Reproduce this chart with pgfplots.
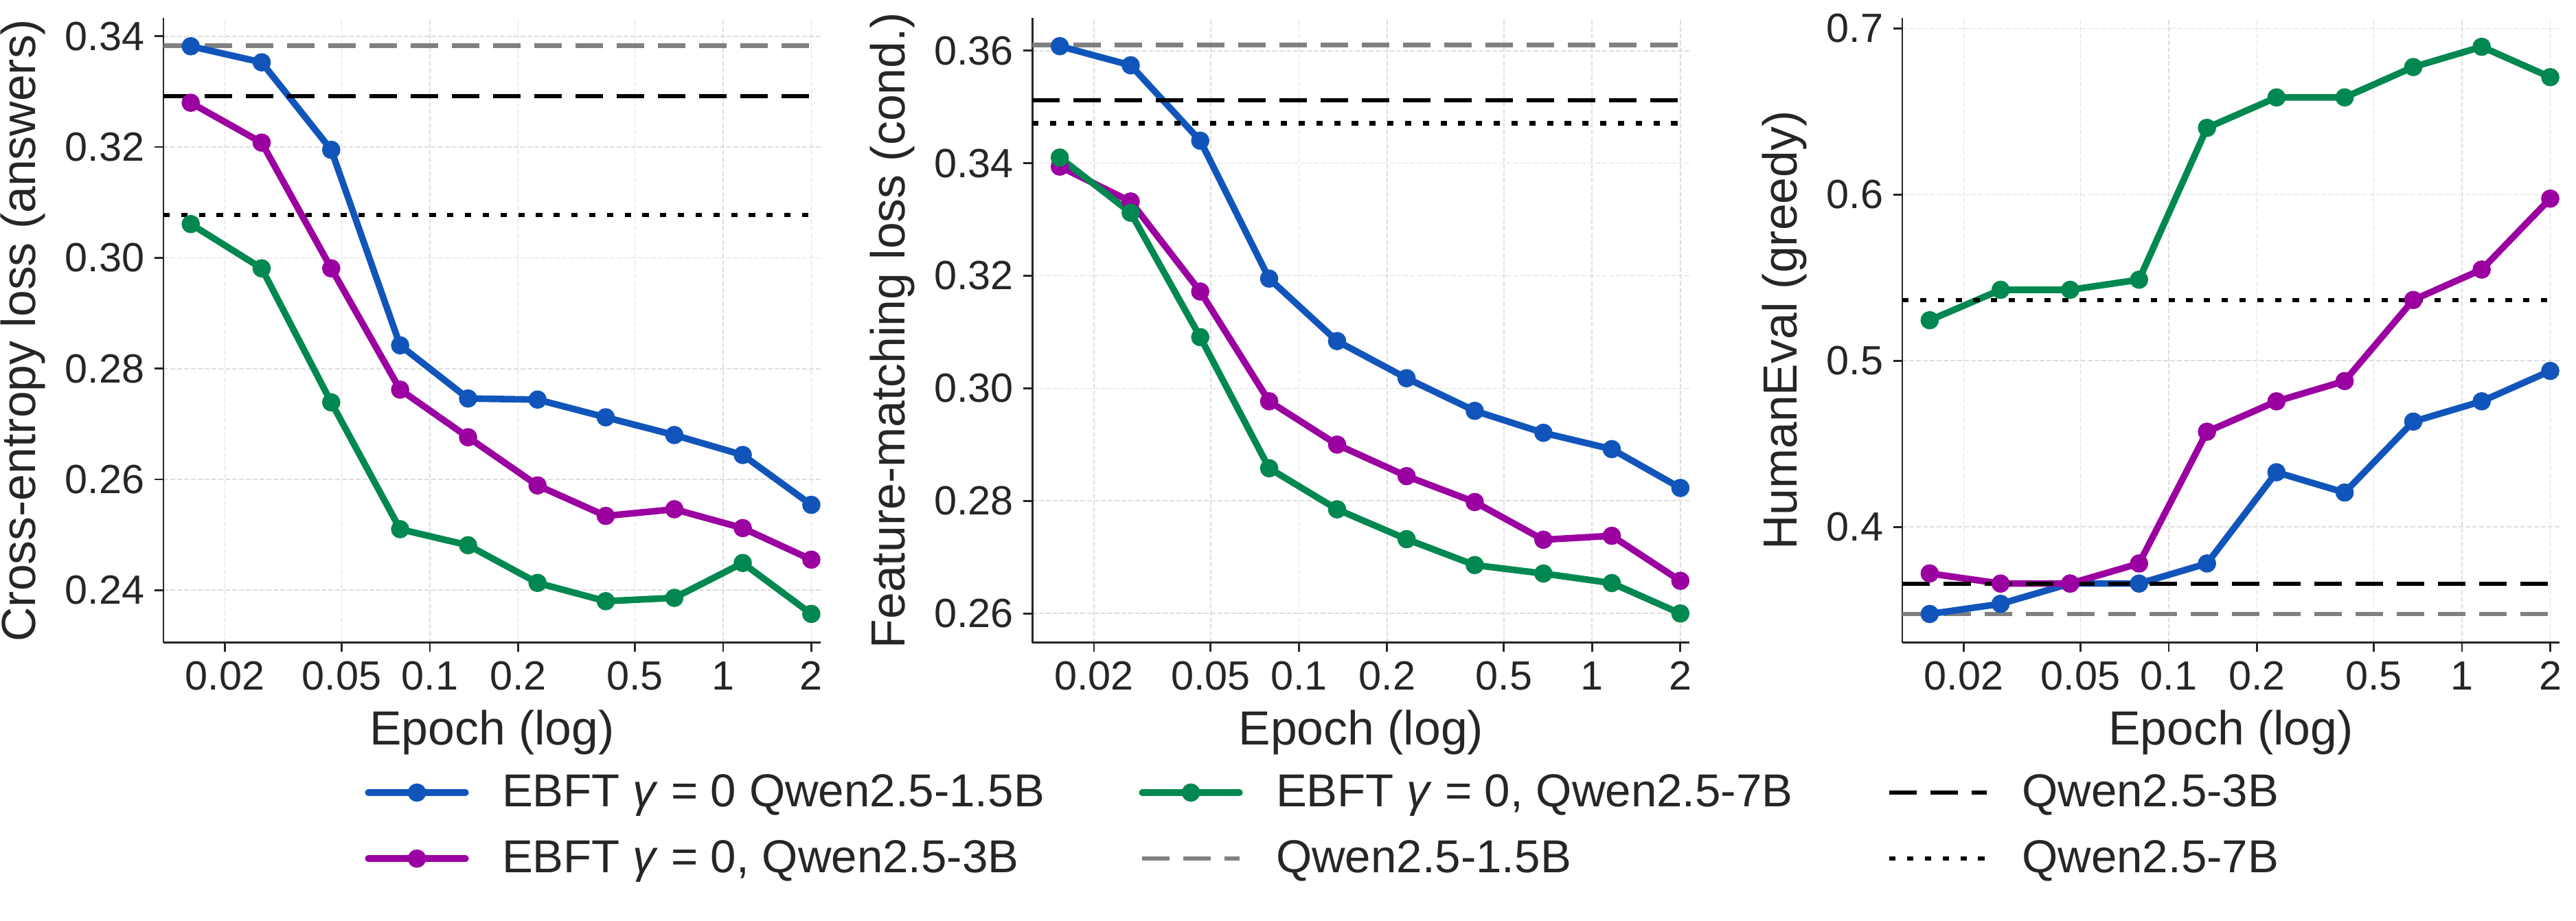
\documentclass[border=0pt]{standalone}
\usepackage{fontspec}
\setmainfont{Liberation Sans}
\usepackage{pgfplots}
\pgfplotsset{compat=1.18}
\usepackage{pgfplotstable}

\definecolor{cblue}{RGB}{17,85,187}
\definecolor{cpurple}{RGB}{155,0,160}
\definecolor{cgreen}{RGB}{0,136,80}
\definecolor{cgray}{RGB}{128,128,128}
\definecolor{ink}{HTML}{262626}
\definecolor{gridc}{HTML}{DEDEDE}

% columns: epoch, EBFT 1.5B, EBFT 3B, EBFT 7B
\pgfplotstableread{
epoch  b      p      g
0.0153 0.3382 0.3280 0.3061
0.0267 0.3353 0.3208 0.2981
0.0461 0.3195 0.2981 0.2739
0.0792 0.2842 0.2762 0.2510
0.135  0.2746 0.2676 0.2481
0.233  0.2744 0.2589 0.2413
0.398  0.2712 0.2534 0.2380
0.682  0.2680 0.2546 0.2386
1.167  0.2644 0.2512 0.2449
2.0    0.2554 0.2455 0.2357
}\tabce

\pgfplotstableread{
epoch  b      p      g
0.0153 0.3608 0.3394 0.3410
0.0267 0.3574 0.3332 0.3312
0.0461 0.3440 0.3172 0.3091
0.0792 0.3195 0.2977 0.2858
0.135  0.3084 0.2900 0.2785
0.233  0.3018 0.2844 0.2732
0.398  0.2960 0.2798 0.2686
0.682  0.2921 0.2731 0.2671
1.167  0.2892 0.2738 0.2654
2.0    0.2823 0.2658 0.2600
}\tabfm

\pgfplotstableread{
epoch  b      p      g
0.0153 0.3476 0.3720 0.5244
0.0267 0.3537 0.3659 0.5427
0.0461 0.3659 0.3659 0.5427
0.0792 0.3659 0.3780 0.5488
0.135  0.3780 0.4573 0.6402
0.233  0.4329 0.4756 0.6585
0.398  0.4207 0.4878 0.6585
0.682  0.4634 0.5366 0.6768
1.167  0.4756 0.5549 0.6890
2.0    0.4939 0.5976 0.6707
}\tabhe

\pgfkeys{/pgf/number format/assume math mode=true}

\tikzset{
  ser/.style={line width=2.3bp, line cap=round, line join=round,
    mark=*, mark size=2.95bp, mark options={solid, line width=0.5bp}},
  refdash/.style={line width=1.5bp, dash pattern=on 9.6bp off 4.8bp},
  refdot/.style={line width=1.5bp, dash pattern=on 2.2bp off 4bp},
}

\pgfplotsset{
  every axis/.append style={
    scale only axis, width=229.7bp, height=218.3bp,
    xmin=0.01234, xmax=2.152,
    xtick={0.02,0.05,0.1,0.2,0.5,1,2},
    xticklabels={0.02,0.05,0.1,0.2,0.5,1,2},
    axis x line*=bottom, axis y line*=left,
    axis line style={ink, line width=0.65bp},
    tick align=outside, major tick length=3.1bp,
    tick style={ink, line width=0.65bp},
    xmajorgrids, ymajorgrids,
    grid style={gridc, line width=0.4bp, dash pattern=on 1.6bp off 0.8bp},
    tick label style={font=\fontsize{14.3}{17}\selectfont, text=ink},
    label style={font=\fontsize{16.8}{20}\selectfont, text=ink},
    xlabel={Epoch (log)},
  },
}

\begin{document}
\begin{tikzpicture}
\useasboundingbox (0,0) rectangle (900.24bp,321.6bp);

% Cross-entropy
\begin{semilogxaxis}[at={(57.1bp,97.0bp)}, anchor=south west,
  ymin=0.2305, ymax=0.3433,
  ytick={0.24,0.26,0.28,0.30,0.32,0.34},
  yticklabel style={/pgf/number format/fixed, /pgf/number format/fixed zerofill,
    /pgf/number format/precision=2},
  ylabel={Cross-entropy loss (answers)}]
\addplot[refdash, cgray] coordinates {(0.01234,0.3383) (2,0.3383)};
\addplot[ser, cblue] table[x=epoch, y=b] {\tabce};
\addplot[ser, cpurple] table[x=epoch, y=p] {\tabce};
\addplot[ser, cgreen] table[x=epoch, y=g] {\tabce};
\addplot[refdash, black] coordinates {(0.01234,0.3292) (2,0.3292)};
\addplot[refdot, black] coordinates {(0.01234,0.3077) (2,0.3077)};
\end{semilogxaxis}

% Feature matching
\begin{semilogxaxis}[at={(360.8bp,97.0bp)}, anchor=south west,
  ymin=0.2548, ymax=0.3658,
  ytick={0.26,0.28,0.30,0.32,0.34,0.36},
  yticklabel style={/pgf/number format/fixed, /pgf/number format/fixed zerofill,
    /pgf/number format/precision=2},
  ylabel={Feature-matching loss (cond.)},
  legend columns=3,
  legend cell align=left,
  legend image code/.code={\path (43.6bp,0bp); \draw[mark repeat=2, mark phase=2, #1]
      plot coordinates {(0bp,0bp) (17bp,0bp) (34bp,0bp)};},
  legend style={at={(0.4447,-0.2927)}, anchor=center, draw=none, fill=none,
    font=\fontsize{16.2}{19.5}\selectfont, text=ink, row sep=6.3bp,
    /tikz/every even column/.append style={column sep=31bp}}]
\addplot[refdash, cgray, forget plot] coordinates {(0.01234,0.3610) (2,0.3610)};
\addplot[ser, cblue, forget plot] table[x=epoch, y=b] {\tabfm};
\addplot[ser, cpurple, forget plot] table[x=epoch, y=p] {\tabfm};
\addplot[ser, cgreen, forget plot] table[x=epoch, y=g] {\tabfm};
\addplot[refdash, black, forget plot] coordinates {(0.01234,0.3512) (2,0.3512)};
\addplot[refdot, black, forget plot] coordinates {(0.01234,0.3471) (2,0.3471)};
\addlegendimage{ser, cblue}
\addlegendentry{EBFT \textit{γ} = 0 Qwen2.5-1.5B}
\addlegendimage{ser, cgreen}
\addlegendentry{EBFT \textit{γ} = 0, Qwen2.5-7B}
\addlegendimage{refdash, black}
\addlegendentry{Qwen2.5-3B}
\addlegendimage{ser, cpurple}
\addlegendentry{EBFT \textit{γ} = 0, Qwen2.5-3B}
\addlegendimage{refdash, cgray}
\addlegendentry{Qwen2.5-1.5B}
\addlegendimage{refdot, black}
\addlegendentry{Qwen2.5-7B}
\end{semilogxaxis}

% HumanEval
\begin{semilogxaxis}[at={(664.8bp,97.0bp)}, anchor=south west,
  ymin=0.3303, ymax=0.7063,
  ytick={0.4,0.5,0.6,0.7},
  yticklabel style={/pgf/number format/fixed, /pgf/number format/fixed zerofill,
    /pgf/number format/precision=1},
  ylabel={HumanEval (greedy)}]
\addplot[refdash, cgray] coordinates {(0.01234,0.3476) (2,0.3476)};
\addplot[ser, cblue] table[x=epoch, y=b] {\tabhe};
\addplot[ser, cpurple] table[x=epoch, y=p] {\tabhe};
\addplot[ser, cgreen] table[x=epoch, y=g] {\tabhe};
\addplot[refdash, black] coordinates {(0.01234,0.3659) (2,0.3659)};
\addplot[refdot, black] coordinates {(0.01234,0.5366) (2,0.5366)};
\end{semilogxaxis}
\end{tikzpicture}
\end{document}
